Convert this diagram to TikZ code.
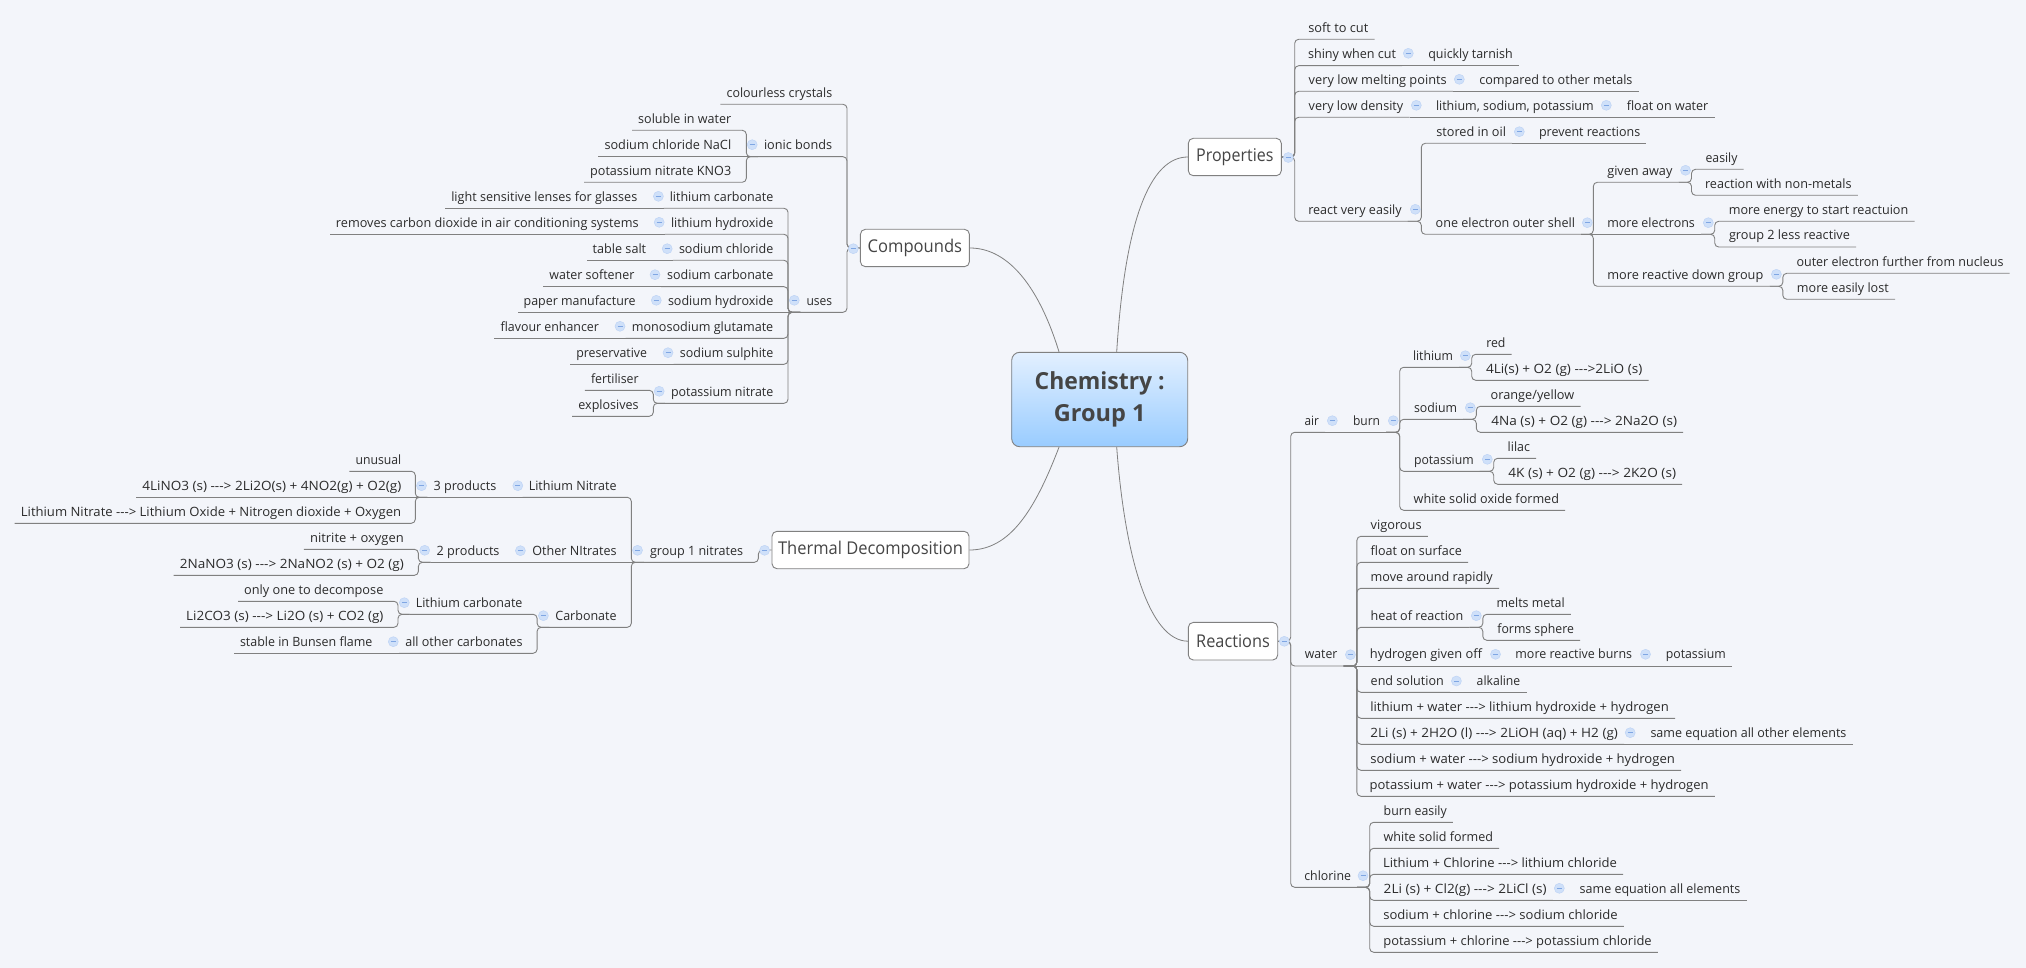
\documentclass[tikz,border=0pt]{standalone}
\usepackage{fontspec}
\usepackage{graphicx}
\usetikzlibrary{calc}
\newfontfamily\xm{Open Sans}
\definecolor{bgc}{HTML}{F3F5FA}
\definecolor{linec}{HTML}{808080}
\definecolor{txtc}{HTML}{2B2B2B}
\definecolor{boxtxt}{HTML}{454545}
\definecolor{minfill}{HTML}{CFE0F9}
\definecolor{minline}{HTML}{7FA6E3}
\definecolor{rootTop}{HTML}{E3F0FF}
\definecolor{rootBot}{HTML}{99CCFF}
\tikzset{
  topic/.style={inner xsep=0pt,inner ysep=0pt,text height=10pt,text depth=7pt,anchor=south,text=txtc,font=\xm\fontsize{12.8}{15}\selectfont},
  mainbox/.style={draw=linec,fill=white,rounded corners=5pt,line width=0.9pt,inner sep=0pt,text=boxtxt,font=\xm\fontsize{17.6}{21}\selectfont},
  rootbox/.style={draw=linec,line width=0.9pt,rounded corners=8pt,top color=rootTop,bottom color=rootBot,inner sep=0pt,align=center,text=boxtxt,font=\xm\bfseries\fontsize{23.5}{32}\selectfont},
  link/.style={draw=linec,line width=0.9pt,rounded corners=4pt},
  plain/.style={draw=linec,line width=0.9pt},
  curve/.style={draw=linec,line width=0.8pt},
  minus/.style={circle,fill=minfill,draw=minfill!80!minline,line width=0.5pt,minimum size=10pt,inner sep=0pt,text=minline,font=\fontsize{5}{5}\selectfont},
}
\newcount\mincount
\newlength\twid
\newcommand\T[5]{\pgfmathsetlength\twid{#3-#2}\node[topic,minimum width={#3-#2+12}] (#1) at ({(#2+#3)/2},#4) {\resizebox{\twid}{\height}{#5}};}
\newcommand\BX[2]{\raisebox{-1pt}{\resizebox{#1pt}{\height}{#2}}}
\newcommand\CR[3]{\foreach \kid in {#3}{\draw[link] (#1) -- (#2,0 |- #1) -- (#2,0 |- \kid.south) -- (\kid.south east);}}
\newcommand\CL[3]{\foreach \kid in {#3}{\draw[link] (#1) -- (#2,0 |- #1) -- (#2,0 |- \kid.south) -- (\kid.south west);}}
\newcommand\SR[2]{\draw[plain] (#1) -- (#2.south east);}
\newcommand\SL[2]{\draw[plain] (#1) -- (#2.south west);}
\newcommand\M[2]{\global\advance\mincount by 1 \node[minus] (m\the\mincount) at (#1,#2) {\rule{5pt}{0.8pt}};}
\begin{document}
\begin{tikzpicture}[x=1pt,y=-1pt]
\useasboundingbox (0,0) rectangle (2026,968);
\fill[bgc] (0,0) rectangle (2026,968);
% main nodes
\node[rootbox,minimum width=176pt,minimum height=94.4pt] (root) at (1099.7,399.5) {\resizebox{130pt}{\height}{Chemistry :}\\Group 1};
\node[mainbox,minimum width=93pt,minimum height=37.4pt] (prop) at (1234.8,157) {\BX{77.3}{Properties}};
\node[mainbox,minimum width=109pt,minimum height=37.4pt] (comp) at (914.9,248) {\BX{94.4}{Compounds}};
\node[mainbox,minimum width=197pt,minimum height=37.4pt] (therm) at (870.5,550) {\BX{184.8}{Thermal Decomposition}};
\node[mainbox,minimum width=89.4pt,minimum height=37.6pt] (reac) at (1233,641.2) {\BX{73.6}{Reactions}};
\coordinate (rTL) at ($(root.north)+(-40.7,0)$);
\coordinate (rTR) at ($(root.north)+(17,0)$);
\coordinate (rBL) at ($(root.south)+(-40.7,0)$);
\coordinate (rBR) at ($(root.south)+(17,0)$);
\draw[curve] (rTR) .. controls (1125,220) and (1150,157) .. (prop.west);
\draw[curve] (rTL) .. controls (1040,290) and (1010,248) .. (comp.east);
\draw[curve] (rBL) .. controls (1035,510) and (1010,550) .. (therm.east);
\draw[curve] (rBR) .. controls (1125,560) and (1150,641) .. (reac.west);
% Properties
\T{soft}{1308.3}{1368.3}{39.3}{soft to cut}
\T{shiny}{1308}{1396}{65.7}{shiny when cut}
\T{tarn}{1428.3}{1512.7}{65.7}{quickly tarnish}
\T{melt}{1308.7}{1446.7}{91.3}{very low melting points}
\T{compd}{1479.3}{1632.5}{91.3}{compared to other metals}
\T{dens}{1308.7}{1403.3}{117.3}{very low density}
\T{lisona}{1436}{1593.7}{117.3}{lithium, sodium, potassium}
\T{floatw}{1626.8}{1708.3}{117.3}{float on water}
\T{react}{1308.3}{1401.7}{221.3}{react very easily}
\T{stored}{1436.3}{1506}{143.3}{stored in oil}
\T{prevent}{1539}{1640.2}{143.3}{prevent reactions}
\T{oneel}{1435.7}{1575}{234.3}{one electron outer shell}
\T{given}{1607.3}{1672.4}{182.3}{given away}
\T{easily}{1705.6}{1737.5}{169.3}{easily}
\T{nonmet}{1705}{1851.6}{195.3}{reaction with non-metals}
\T{moreel}{1607.3}{1694.9}{234.3}{more electrons}
\T{energy}{1728.8}{1908.3}{221.3}{more energy to start reactuion}
\T{group2}{1729}{1849.9}{247}{group 2 less reactive}
\T{downg}{1607.3}{1763.3}{286.3}{more reactive down group}
\T{outer}{1796.5}{2003.5}{273.3}{outer electron further from nucleus}
\T{lost}{1796.9}{1888.8}{299.3}{more easily lost}
% Compounds
\T{colour}{726.6}{832.2}{104.3}{colourless crystals}
\T{ionic}{764}{832.2}{156.7}{ionic bonds}
\T{solub}{638.2}{731.2}{130.3}{soluble in water}
\T{nacl}{604.5}{731.2}{156.7}{sodium chloride NaCl}
\T{kno}{590.2}{731.2}{182.3}{potassium nitrate KNO3}
\T{uses}{806.5}{832.2}{312.3}{uses}
\T{licarb}{669.8}{773.3}{208.3}{lithium carbonate}
\T{lenses}{451.3}{637.3}{208.3}{light sensitive lenses for glasses}
\T{lihyd}{671}{773.3}{234.3}{lithium hydroxide}
\T{remov}{336}{638.6}{234.3}{removes carbon dioxide in air conditioning systems}
\T{nachl}{679}{773.3}{260.3}{sodium chloride}
\T{tsalt}{592.7}{646.2}{260.3}{table salt}
\T{nacarb}{667.2}{773.3}{286.7}{sodium carbonate}
\T{soften}{549.4}{634.4}{286.7}{water softener}
\T{nahyd}{668}{773.3}{312.3}{sodium hydroxide}
\T{paper}{523.7}{635.7}{312.3}{paper manufacture}
\T{msg}{631.9}{773.3}{338.3}{monosodium glutamate}
\T{flav}{500.6}{599}{338.3}{flavour enhancer}
\T{sulph}{679.9}{773.3}{364.3}{sodium sulphite}
\T{preser}{576.3}{647}{364.3}{preservative}
\T{knit}{671}{773.3}{403.3}{potassium nitrate}
\T{fert}{591}{638.6}{390.3}{fertiliser}
\T{expl}{578.4}{638.6}{416.3}{explosives}
% Thermal decomposition
\T{g1n}{650}{743.2}{562.3}{group 1 nitrates}
\T{linit}{528.8}{616.6}{497.3}{Lithium Nitrate}
\T{p3}{433.6}{496.3}{497.3}{3 products}
\T{unus}{355.6}{401.2}{471.3}{unusual}
\T{lieq}{142.3}{401.2}{497.3}{4LiNO3 (s) ---> 2Li2O(s) + 4NO2(g) + O2(g)}
\T{liword}{20.9}{401.2}{523.3}{Lithium Nitrate ---> Lithium Oxide + Nitrogen dioxide + Oxygen}
\T{othn}{532.4}{616.6}{562.3}{Other NItrates}
\T{p2}{436.7}{499.5}{562.3}{2 products}
\T{nitox}{310.1}{403.8}{549.3}{nitrite + oxygen}
\T{naeq}{179.9}{403.8}{575.3}{2NaNO3 (s) ---> 2NaNO2 (s) + O2 (g)}
\T{carb}{555.4}{616.6}{627.3}{Carbonate}
\T{lc}{415.8}{522.5}{614.3}{Lithium carbonate}
\T{only}{244.2}{383.4}{601.3}{only one to decompose}
\T{lceq}{186.2}{383.4}{627.3}{Li2CO3 (s) ---> Li2O (s) + CO2 (g)}
\T{allc}{405.3}{522.5}{653.3}{all other carbonates}
\T{bun}{240}{372.4}{653.3}{stable in Bunsen flame}
% Reactions: air
\T{air}{1304.7}{1319}{432.3}{air}
\T{burn}{1353}{1380}{432.3}{burn}
\T{lith}{1413}{1453}{367.3}{lithium}
\T{red}{1486.3}{1505.5}{354.3}{red}
\T{lieq2}{1486}{1642.3}{380.3}{4Li(s) + O2 (g) --->2LiO (s)}
\T{sod}{1414}{1457}{419.3}{sodium}
\T{oran}{1490.7}{1574.3}{406.3}{orange/yellow}
\T{naeq2}{1491.3}{1677}{432.3}{4Na (s) + O2 (g) ---> 2Na2O (s)}
\T{pot}{1414}{1473.7}{471.3}{potassium}
\T{lilac}{1507.7}{1530}{458.3}{lilac}
\T{keq}{1508.3}{1676}{484.3}{4K (s) + O2 (g) ---> 2K2O (s)}
\T{white}{1413.7}{1559}{510.3}{white solid oxide formed}
% Reactions: water
\T{water}{1304.9}{1337.4}{666}{water}
\T{vig}{1370.7}{1421.6}{536.3}{vigorous}
\T{fsurf}{1370.7}{1461.8}{562.3}{float on surface}
\T{mvrap}{1370.7}{1492.8}{588.3}{move around rapidly}
\T{heat}{1370.7}{1463.3}{627.3}{heat of reaction}
\T{mmet}{1496.6}{1564.7}{614.3}{melts metal}
\T{fsph}{1497.4}{1573.9}{640.3}{forms sphere}
\T{hyd}{1369.9}{1482}{666}{hydrogen given off}
\T{mrb}{1515.4}{1632.1}{666}{more reactive burns}
\T{potw}{1665.8}{1725.8}{666}{potassium}
\T{endsol}{1370.7}{1443.8}{692.3}{end solution}
\T{alk}{1476.7}{1520.3}{692.3}{alkaline}
\T{liw}{1370.3}{1668.8}{718.3}{lithium + water ---> lithium hydroxide + hydrogen}
\T{lih}{1370.3}{1617.9}{744.3}{2Li (s) + 2H2O (l) ---> 2LiOH (aq) + H2 (g)}
\T{sameq}{1650.5}{1846.4}{744.3}{same equation all other elements}
\T{naw}{1370.3}{1674.9}{770.3}{sodium + water ---> sodium hydroxide + hydrogen}
\T{kw}{1369.6}{1708.6}{796.3}{potassium + water ---> potassium hydroxide + hydrogen}
% Reactions: chlorine
\T{chl}{1304.3}{1351}{887.3}{chlorine}
\T{beas}{1383.7}{1446.7}{822.3}{burn easily}
\T{wsf}{1383.7}{1493}{848.3}{white solid formed}
\T{lichl}{1383}{1617}{874.3}{Lithium + Chlorine ---> lithium chloride}
\T{licl}{1383.7}{1546.7}{900.3}{2Li (s) + Cl2(g) ---> 2LiCl (s)}
\T{sameall}{1579.7}{1740.3}{900.3}{same equation all elements}
\T{nachlo}{1383.3}{1617.7}{926.3}{sodium + chlorine ---> sodium chloride}
\T{kchl}{1383.3}{1651.7}{952.3}{potassium + chlorine ---> potassium chloride}
% connectors
\CR{prop.east}{1294.7}{soft,shiny,melt,dens,react}
\SR{shiny.south east}{tarn}
\SR{melt.south east}{compd}
\SR{dens.south east}{lisona}
\SR{lisona.south east}{floatw}
\CR{react.south east}{1421.3}{stored,oneel}
\SR{stored.south east}{prevent}
\CR{oneel.south east}{1593.3}{given,downg}
\SR{oneel.south east}{moreel}
\CR{given.south east}{1691.5}{easily,nonmet}
\CR{moreel.south east}{1714.7}{energy,group2}
\CR{downg.south east}{1782.8}{outer,lost}
\CL{comp.west}{847}{colour,ionic,uses}
\CL{ionic.south west}{746.3}{solub,kno}
\SL{ionic.south west}{nacl}
\CL{uses.south west}{788}{licarb,lihyd,nachl,nacarb,msg,sulph,knit}
\SL{uses.south west}{nahyd}
\SL{licarb.south west}{lenses}
\SL{lihyd.south west}{remov}
\SL{nachl.south west}{tsalt}
\SL{nacarb.south west}{soften}
\SL{nahyd.south west}{paper}
\SL{msg.south west}{flav}
\SL{sulph.south west}{preser}
\CL{knit.south west}{653.3}{fert,expl}
\CL{therm.west}{758.4}{g1n}
\CL{g1n.south west}{631.3}{linit,carb}
\SL{g1n.south west}{othn}
\SL{linit.south west}{p3}
\CL{p3.south west}{415.3}{unus,liword}
\SL{p3.south west}{lieq}
\SL{othn.south west}{p2}
\CL{p2.south west}{418.4}{nitox,naeq}
\CL{carb.south west}{537.1}{lc,allc}
\CL{lc.south west}{398}{only,lceq}
\SL{allc.south west}{bun}
\CR{reac.east}{1290.7}{air,water,chl}
\SR{air.south east}{burn}
\CR{burn.south east}{1399.7}{lith,sod,pot,white}
\CR{lith.south east}{1471.7}{red,lieq2}
\CR{sod.south east}{1476.3}{oran,naeq2}
\CR{pot.south east}{1493.7}{lilac,keq}
\CR{water.south east}{1356.9}{vig,fsurf,mvrap,heat,endsol,liw,lih,naw,kw}
\SR{water.south east}{hyd}
\CR{heat.south east}{1482.8}{mmet,fsph}
\SR{hyd.south east}{mrb}
\SR{mrb.south east}{potw}
\SR{endsol.south east}{alk}
\SR{lih.south east}{sameq}
\CR{chl.south east}{1369.7}{beas,wsf,lichl,licl,nachlo,kchl}
\SR{licl.south east}{sameall}
% collapse markers
\M{1288.3}{157.5}\M{1408.3}{53.3}\M{1459.3}{79.3}\M{1416.3}{105.3}\M{1606.3}{105.3}
\M{1415.3}{209.3}\M{1519.3}{131.7}\M{1587.3}{222.7}\M{1685.5}{170.3}\M{1708.3}{222.7}\M{1776.4}{274.3}
\M{853.3}{248.7}\M{752.2}{144.7}\M{794.3}{300.3}\M{658.4}{196.3}\M{659.2}{222.3}\M{667.2}{248.7}
\M{655}{274.7}\M{656.3}{300.3}\M{620}{326.3}\M{668}{352.7}\M{659.2}{391.3}
\M{764.6}{550.3}\M{637.5}{550.3}\M{517.8}{485.7}\M{421.5}{485.7}\M{520.4}{550.7}\M{424.7}{550.3}
\M{543.4}{615.7}\M{404.3}{602.7}\M{393.3}{641.7}
\M{1284.3}{641.3}\M{1332.3}{420.7}\M{1393.3}{420.7}\M{1465.3}{355.7}\M{1470.3}{407.7}\M{1487.3}{459.3}
\M{1350.4}{654.7}\M{1476.3}{615.7}\M{1495.5}{654.3}\M{1645.5}{654.3}\M{1456.4}{681}\M{1630.2}{732.7}
\M{1363}{875.7}\M{1559.3}{888.3}
\end{tikzpicture}
\end{document}
